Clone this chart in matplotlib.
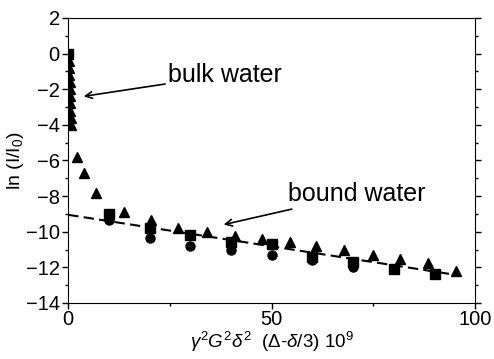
import matplotlib
matplotlib.use("Agg")
import matplotlib.pyplot as plt
from matplotlib.ticker import MultipleLocator

plt.rcParams['font.family'] = ['Liberation Sans', 'DejaVu Sans']
plt.rcParams['mathtext.fontset'] = 'custom'
plt.rcParams['mathtext.rm'] = 'Liberation Sans'
plt.rcParams['mathtext.it'] = 'Liberation Sans:italic'

# squares
sq_x = [0, 10, 20, 30, 40, 50, 60, 70, 80, 90]
sq_y = [0, -9.0, -9.8, -10.2, -10.55, -10.7, -11.4, -11.7, -12.1, -12.4]

# circles
ci_x = [0, 10, 20, 30, 40, 50, 60, 70]
ci_y = [0, -9.35, -10.35, -10.8, -11.0, -11.3, -11.6, -12.0]

# triangles
tr_x = [0.2, 0.25, 0.3, 0.35, 0.4, 0.45, 0.5, 0.55, 0.6, 0.65,
        2.2, 4.0, 6.9, 13.6, 20.4, 27.1, 34.1, 40.9, 47.6, 54.4,
        61.0, 67.8, 74.8, 81.6, 88.4, 95.3]
tr_y = [-0.4, -0.8, -1.2, -1.6, -2.0, -2.4, -2.8, -3.2, -3.6, -4.0,
        -5.8, -6.7, -7.8, -8.9, -9.35, -9.8, -10.0, -10.25, -10.4, -10.6,
        -10.8, -11.0, -11.3, -11.55, -11.75, -12.2]

# linear fit (dashed)
fit_x = [0, 96]
fit_y = [-9.05, -12.45]

fig = plt.figure(figsize=(4.94, 3.59), dpi=100)
ax = fig.add_axes([0.138, 0.156, 0.824, 0.794])

ax.plot(fit_x, fit_y, color='black', linestyle=(0, (5, 2.5)), linewidth=1.5, zorder=2)
ax.plot(ci_x, ci_y, 'o', color='black', markersize=6.5, zorder=3)
ax.plot(sq_x, sq_y, 's', color='black', markersize=6.5, zorder=3)
ax.plot(tr_x, tr_y, '^', color='black', markersize=7.5, zorder=3)

ax.annotate('bulk water', xy=(3.8, -2.4), xytext=(24.5, -1.2),
            fontsize=18, va='center', ha='left',
            arrowprops=dict(arrowstyle='->', color='black', lw=1.2,
                            shrinkA=0, shrinkB=0, mutation_scale=12))
ax.annotate('bound water', xy=(38.2, -9.6), xytext=(54.0, -7.9),
            fontsize=18, va='center', ha='left',
            arrowprops=dict(arrowstyle='->', color='black', lw=1.2,
                            shrinkA=0, shrinkB=0, mutation_scale=12))

ax.set_xlim(0, 100)
ax.set_ylim(-14, 2)
ax.xaxis.set_major_locator(MultipleLocator(50))
ax.xaxis.set_minor_locator(MultipleLocator(25))
ax.yaxis.set_major_locator(MultipleLocator(2))
ax.yaxis.set_minor_locator(MultipleLocator(1))
ax.tick_params(which='both', direction='out', labelsize=14.5, width=1)
ax.tick_params(which='major', length=4)
ax.tick_params(which='minor', length=2.5)
ax.tick_params(axis='y', which='both', right=True, labelright=False, pad=2)
ax.tick_params(axis='x', which='both', top=False)
ax.tick_params(axis='x', pad=1)

ax.set_xlabel(r'$\gamma^2\mathit{G}^2\delta^2$  ($\Delta$-$\delta$/3) 10$^9$', fontsize=13.5)
ax.xaxis.set_label_coords(0.5, -0.095)
ax.set_ylabel(r'ln (I/I$_0$)', fontsize=14, labelpad=0)

fig.savefig('out.png', dpi=100)
